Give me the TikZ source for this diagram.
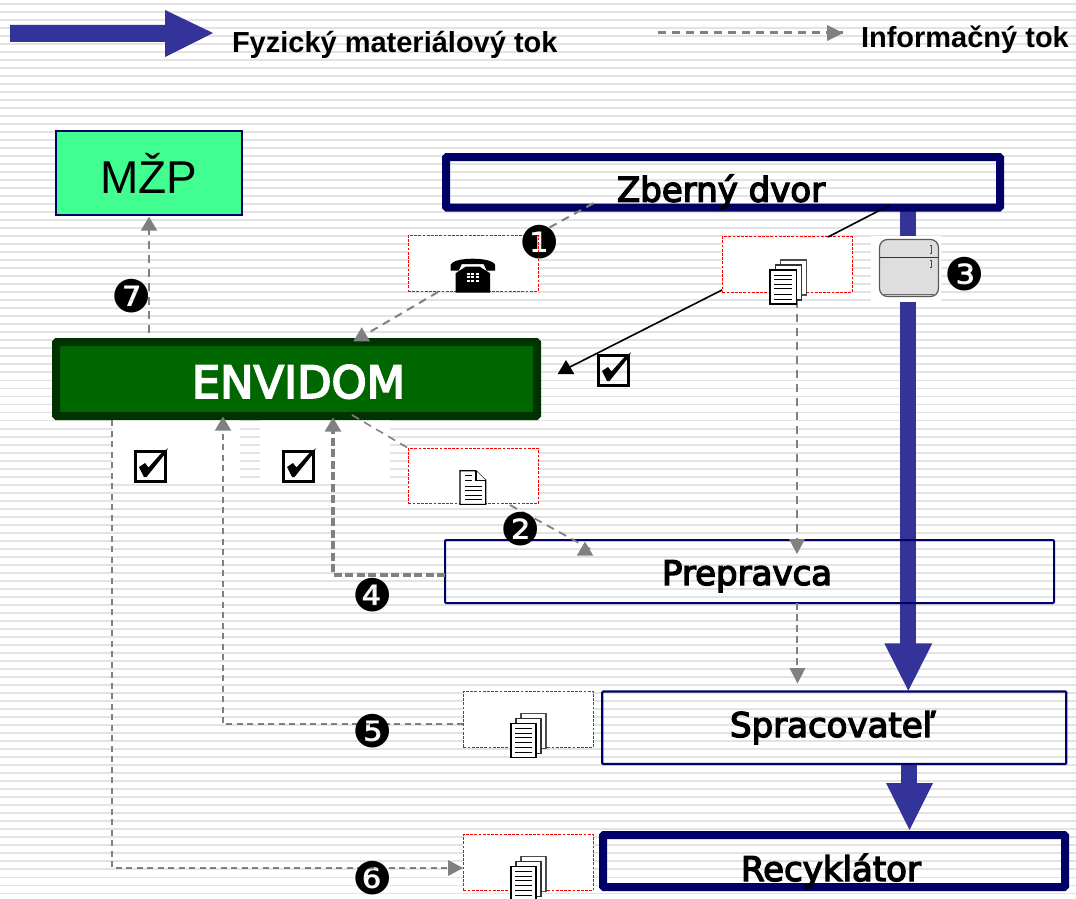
\documentclass[tikz,border=0pt]{standalone}
\usepackage{fontspec}
\setmainfont{Liberation Sans}
\newfontfamily\dejavu{DejaVu Sans}
\newfontfamily\labelfont[FakeBold=4]{DejaVu Sans}
\usetikzlibrary{arrows.meta,calc}
\definecolor{navyb}{HTML}{000066}
\definecolor{flow}{HTML}{333399}
\definecolor{info}{HTML}{808080}
\definecolor{mzpfill}{HTML}{40FF90}
\definecolor{envf}{HTML}{006600}
\definecolor{envb}{HTML}{003300}
\tikzset{
  x=1pt,y=-1pt,
  every node/.style={outer sep=0pt},
  infoplain/.style={draw=info,line width=2pt,dash pattern=on 8pt off 6pt},
  sheetbox/.style={draw=red,fill=white,line width=0.9pt,dash pattern=on 2.8pt off 1.4pt,minimum width=130pt,minimum height=55.5pt,inner sep=0pt,anchor=north west},
  whitepatch/.style={fill=white,draw=none,inner sep=0pt,anchor=north west},
  flowarrow/.style={draw=none,fill=flow},
  numlabel/.style={font=\dejavu\fontsize{45}{45}\selectfont,inner sep=0pt,text=black},
  actor/.style={draw=navyb,rounded corners=1pt,anchor=north west,inner sep=0pt},
  actortext/.style={anchor=base west,inner sep=0pt,font=\labelfont\fontsize{34}{34}\selectfont},
  legendtext/.style={anchor=west,inner sep=0pt,font=\bfseries\fontsize{29}{29}\selectfont},
  sheet/.style={draw=black,fill=white,line width=1.1pt},
  sheetrule/.style={draw=black,line width=1pt},
}
\newcommand{\docstack}[3]{%
  \begin{scope}[shift={(#1,#2)},xscale=#3]
    \draw[sheet,draw=black!70] (10,0) rectangle (35,35);
    \draw[sheet,draw=black!80] (5,5) rectangle (30,40);
    \draw[sheet] (0,10) rectangle (25,44);
    \foreach \yy in {15,19.5,24,28.5,34,39}{\draw[sheetrule] (4,\yy) -- (21,\yy);}
  \end{scope}}
\newcommand{\checkbox}[2]{%
  \begin{scope}[shift={(#1,#2)}]
    \draw[black,line width=3pt] (1.5,1.5) rectangle (31.5,31);
    \fill[black] (5,17) -- (11,13) -- (14.5,17.5) -- (27,3.5) -- (33,-1) -- (34,-2) -- (31,4) -- (12.5,27) -- (10,27) -- cycle;
  \end{scope}}
\newcommand{\uptri}[2]{\fill[#2] (#1) -- ++(-8.3,14) -- ++(16.6,0) -- cycle;}
\begin{document}
\begin{tikzpicture}
\useasboundingbox (0,0) rectangle (1076,899);
\fill[white] (0,0) rectangle (1076,899);
\foreach \k in {0,...,112}{\draw[draw=black!11,line width=1.9pt] (0,{3.7+8.016*\k}) -- (1076,{3.7+8.016*\k});}

% legend
\fill[flowarrow] (10,25) -- (165,25) -- (165,10) -- (213,33) -- (165,57) -- (165,42) -- (10,42) -- cycle;
\node[legendtext] (legA) at (232,45) {Fyzický materiálový tok};
\coordinate (legS) at (658,33); \coordinate (legE) at (843,33);
\draw[infoplain,line width=3pt] (legS) -- (legE);
\fill[info] (843,33) -- (827,25) -- (827,41) -- cycle;
\node[legendtext] (legB) at (861,40) {Informačný tok};

% white patches
\node[whitepatch,minimum width=128pt,minimum height=64pt] (patchA) at (112,420) {};
\node[whitepatch,minimum width=130pt,minimum height=64pt] (patchB) at (260,420) {};

% physical flow
\fill[flowarrow] (900.3,210) rectangle (916,645);
\fill[flowarrow] (884.3,643.3) -- (932.3,643.3) -- (908.3,690.7) -- cycle;
\fill[flowarrow] (901,764) rectangle (917,785);
\fill[flowarrow] (886,783) -- (933,783) -- (909.5,830) -- cycle;
\node[whitepatch,minimum width=70pt,minimum height=66.6pt] (fridgebg) at (871,235.7) {};

% actors
\node[draw=navyb,fill=mzpfill,line width=1.5pt,anchor=north west,inner sep=0pt,minimum width=186pt,minimum height=84pt,font=\fontsize{46}{46}\selectfont] (mzp) at (56,131) {MŽP};
\node[actor,line width=8pt,minimum width=554pt,minimum height=50.5pt] (zber) at (446,157) {};
\node[actortext] (zbert) at (617,201.7) {Zberný dvor};
\node[draw=envb,fill=envf,line width=8pt,rounded corners=1pt,anchor=north west,inner sep=0pt,minimum width=481pt,minimum height=74pt] (env) at (56,342) {};
\node[actortext,text=white,font=\labelfont\fontsize{44.6}{45}\selectfont] (envt) at (192,398) {ENVIDOM};
\node[actor,line width=2pt,minimum width=609pt,minimum height=63pt] (prep) at (445,540) {};
\node[actortext] (prept) at (662,585) {Prepravca};
\node[actor,line width=2.2pt,minimum width=464pt,minimum height=72.5pt] (spr) at (602.3,691.5) {};
\node[actortext] (sprt) at (730,737) {Spracovateľ};
\node[actor,line width=8pt,minimum width=462pt,minimum height=52pt] (rec) at (603,835) {};
\node[actortext] (rect) at (741,881) {Recyklátor};

% sheet boxes
\node[sheetbox] (bphone) at (408,235.5) {};
\node[sheetbox] (bdoc) at (722.3,236.7) {};
\node[sheetbox] (bnote) at (408.3,448.2) {};
\node[sheetbox,minimum height=56.3pt] (bfive) at (463.3,691) {};
\node[sheetbox,minimum height=56.3pt] (bsix) at (463.3,834.3) {};

% info connectors
\coordinate (a1) at (593.3,203.3); \coordinate (a2) at (545,230);
\draw[infoplain] (a1) -- (a2);
\coordinate (a3) at (438,292); \coordinate (a4) at (361.7,327.3); \coordinate (a5) at (363,336);
\draw[infoplain] (a3) -- (a5);
\uptri{a4}{info}
\coordinate (b1) at (890,205); \coordinate (b2) at (828,237);
\draw[black,line width=1.6pt] (b1) -- (b2);
\coordinate (b3) at (722,290); \coordinate (b4) at (566,360); \coordinate (b5) at (566,369);
\draw[black,line width=1.6pt] (b3) -- (b5);
\uptri{b4}{black}
\coordinate (c1) at (149,333); \coordinate (c2) at (149,230); \coordinate (c3) at (149,216.7);
\draw[infoplain,line width=2.2pt] (c1) -- (c2);
\uptri{c3}{info}
\coordinate (d1) at (112,420); \coordinate (d2) at (112,868); \coordinate (d3) at (450,868);
\draw[infoplain,line width=1.8pt,dash pattern=on 6pt off 4.5pt] (d1) -- (d2) -- (d3);
\fill[info] (463,868) -- (448,860) -- (448,876) -- cycle;
\coordinate (e1) at (463.3,724.3); \coordinate (e2) at (223,724.3); \coordinate (e3) at (223,430); \coordinate (e4) at (223,416.7);
\draw[infoplain,line width=1.9pt,dash pattern=on 6pt off 4.5pt] (e1) -- (e2) -- (e3);
\uptri{e4}{info}
\coordinate (f1) at (445,575); \coordinate (f2) at (333,575); \coordinate (f3) at (333,430); \coordinate (f4) at (333,417.5);
\draw[infoplain,line width=3.2pt,dash pattern=on 8pt off 3.5pt] (f1) -- (f2) -- (f3);
\uptri{f4}{info}
\coordinate (g1) at (352,415); \coordinate (g2) at (408.3,448.2);
\draw[infoplain,line width=1.6pt] (g1) -- (g2);
\coordinate (g3) at (510,505); \coordinate (g4) at (585,541.7); \coordinate (g5) at (590,549);
\draw[infoplain,line width=1.8pt] (g3) -- (g5);
\uptri{g4}{info}
\coordinate (h1) at (797,300); \coordinate (h2) at (797,540);
\draw[infoplain,line width=2.1pt] (h1) -- (h2);
\fill[info] (797,554) -- (789,539) -- (805,539) -- cycle;
\coordinate (h3) at (797,603); \coordinate (h4) at (797,669);
\draw[infoplain,line width=2.4pt,dash pattern=on 7pt off 4pt] (h3) -- (h4);
\fill[info] (797.5,683.5) -- (789.5,668) -- (805.5,668) -- cycle;

% icons
\begin{scope}[shift={(450.7,257.7)}]
  \fill[black] (5,15.5) -- (5,35) -- (39.3,35) -- (39.3,15.5) -- (29,9) -- (15,9) -- cycle;
  \fill[black] (0,7) .. controls (3,-1) and (41,-1) .. (44.3,7) -- (44.3,13) -- (36,13) -- (33,6.5) -- (11,6.5) -- (8,13) -- (0,13) -- cycle;
  \foreach \i in {0,1,2}{\foreach \j in {0,1,2}{\fill[white] ({16+4.7*\i},{15.5+3.2*\j}) rectangle +(3,2);}}
\end{scope}
\docstack{770}{260}{1.05}
\begin{scope}[shift={(460,470.7)}]
  \draw[sheet] (0,0) -- (16,0) -- (25.7,9.5) -- (25.7,33.6) -- (0,33.6) -- cycle;
  \draw[sheet] (16,0) -- (16,9.5) -- (25.7,9.5);
  \foreach \yy in {4.3,9.3}{\draw[sheetrule] (5,\yy) -- (12,\yy);}
  \foreach \yy in {15.3,20,24.3,28.6}{\draw[sheetrule] (5,\yy) -- (21.7,\yy);}
\end{scope}
\docstack{511}{713.7}{1}
\docstack{511}{856.7}{1}
\draw[draw=black!65,fill=black!13,line width=1.2pt,rounded corners=8pt] (879.5,239.5) rectangle (938.5,296.5);
\draw[black!80,line width=1.2pt] (880,257.7) -- (938,257.7);
\draw[black!60,line width=0.8pt] (884,294.3) -- (934,294.3);
\draw[black!70,line width=1pt] (929.5,245.7) -- (931,245.7) -- (931,253.3) -- (929.5,253.3) (929.5,260.7) -- (931,260.7) -- (931,267.3) -- (929.5,267.3);

% check marks
\checkbox{597}{354}
\checkbox{134}{450}
\checkbox{282}{450}

% numbers
\node[numlabel] (n1) at (540,242.5) {❶};
\node[numlabel] (n2) at (520.5,529.5) {❷};
\node[numlabel] (n3) at (964.5,274) {❸};
\node[numlabel] (n4) at (372.5,595) {❹};
\node[numlabel] (n5) at (372.5,731) {❺};
\node[numlabel] (n6) at (372.5,878) {❻};
\node[numlabel] (n7) at (131.7,296.3) {❼};
\end{tikzpicture}
\end{document}
